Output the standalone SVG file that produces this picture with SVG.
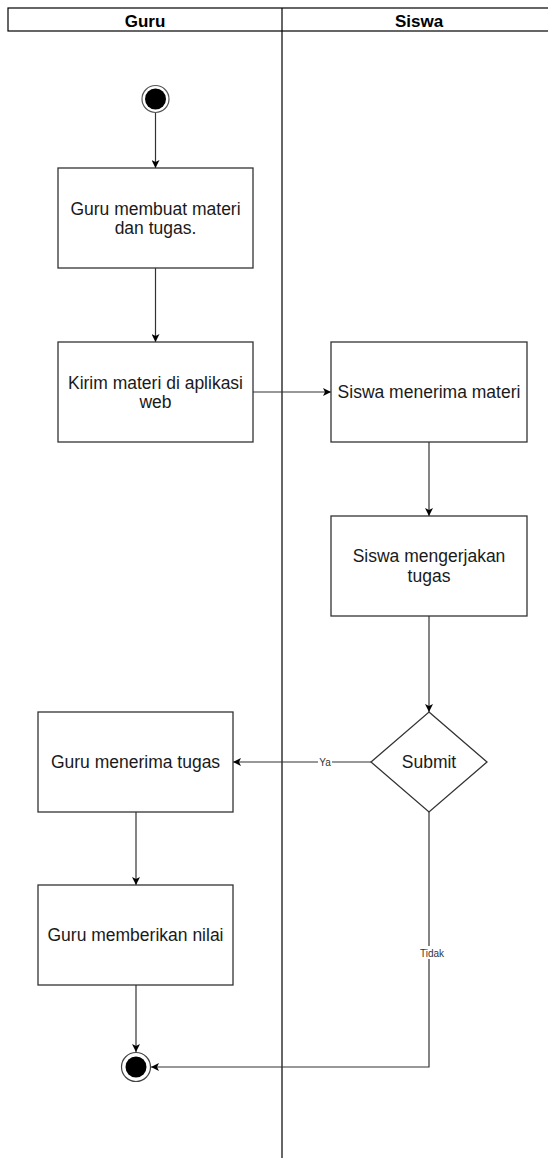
<svg xmlns="http://www.w3.org/2000/svg" width="548" height="1161" viewBox="0 0 548 1161">
<style>
.lane{fill:none;stroke:#000;stroke-width:1.2}
.hdr{font-family:"Liberation Sans",Arial,sans-serif;font-weight:bold;font-size:17px;fill:#000;text-anchor:middle}
.box{fill:#fff;stroke:#333;stroke-width:1.3}
.t{font-family:"Liberation Sans",Arial,sans-serif;font-size:17.5px;fill:#1a1a1a;text-anchor:middle}
.lbl{font-family:"Liberation Sans",Arial,sans-serif;font-size:10px;fill:#333;text-anchor:middle}
.edge{fill:none;stroke:#333;stroke-width:1.2;marker-end:url(#arr)}
</style>
<defs>
<marker id="arr" viewBox="0 0 10 10" refX="10" refY="5" markerWidth="8" markerHeight="8" markerUnits="userSpaceOnUse" orient="auto">
<path d="M0,0 L10,5 L0,10 L2.5,5 Z" fill="#000"/>
</marker>
</defs>
<rect width="548" height="1161" fill="#fff"/>
<g id="pool">
<rect class="lane" x="8" y="8" width="560" height="23"/>
<line class="lane" x1="282" y1="8" x2="282" y2="1158"/>
<text class="hdr" x="145" y="27">Guru</text>
<text class="hdr" x="419" y="27">Siswa</text>
</g>
<g id="edges">
<line class="edge" x1="155.5" y1="113" x2="155.5" y2="168"/>
<line class="edge" x1="155.5" y1="268" x2="155.5" y2="342"/>
<line class="edge" x1="253" y1="392" x2="331" y2="392"/>
<line class="edge" x1="429" y1="442" x2="429" y2="516"/>
<line class="edge" x1="429" y1="616" x2="429" y2="712"/>
<line class="edge" x1="371" y1="762" x2="233" y2="762"/>
<line class="edge" x1="136" y1="812" x2="136" y2="885"/>
<line class="edge" x1="136" y1="985" x2="136" y2="1052"/>
<polyline class="edge" points="429,812 429,1067 151,1067"/>
<rect x="318" y="756" width="14" height="12" fill="#fff"/>
<text class="lbl" x="325" y="765.5">Ya</text>
<rect x="417" y="946" width="30" height="13" fill="#fff"/>
<text class="lbl" x="432" y="956.5">Tidak</text>
</g>
<g id="start">
<circle cx="155.5" cy="99" r="13.5" fill="#fff" stroke="#555" stroke-width="1.2"/>
<circle cx="155.5" cy="99" r="10.5" fill="#000"/>
</g>
<g id="n1">
<rect class="box" x="58" y="168" width="195" height="100"/>
<text class="t" x="155.5" y="215">Guru membuat materi</text>
<text class="t" x="155.5" y="234">dan tugas.</text>
</g>
<g id="n2">
<rect class="box" x="58" y="342" width="195" height="100"/>
<text class="t" x="155.5" y="389">Kirim materi di aplikasi</text>
<text class="t" x="155.5" y="408">web</text>
</g>
<g id="n3">
<rect class="box" x="331" y="342" width="196" height="100"/>
<text class="t" x="429" y="398">Siswa menerima materi</text>
</g>
<g id="n4">
<rect class="box" x="331" y="516" width="196" height="100"/>
<text class="t" x="429" y="562">Siswa mengerjakan</text>
<text class="t" x="429" y="582">tugas</text>
</g>
<g id="d1">
<polygon class="box" points="429,712 487,762 429,812 371,762"/>
<text class="t" x="429" y="768">Submit</text>
</g>
<g id="n5">
<rect class="box" x="38" y="712" width="195" height="100"/>
<text class="t" x="135.5" y="768">Guru menerima tugas</text>
</g>
<g id="n6">
<rect class="box" x="38" y="885" width="195" height="100"/>
<text class="t" x="135.5" y="941">Guru memberikan nilai</text>
</g>
<g id="end">
<circle cx="136" cy="1067" r="14.5" fill="#fff" stroke="#444" stroke-width="1.2"/>
<circle cx="136" cy="1067" r="10.5" fill="#000"/>
</g>
</svg>
